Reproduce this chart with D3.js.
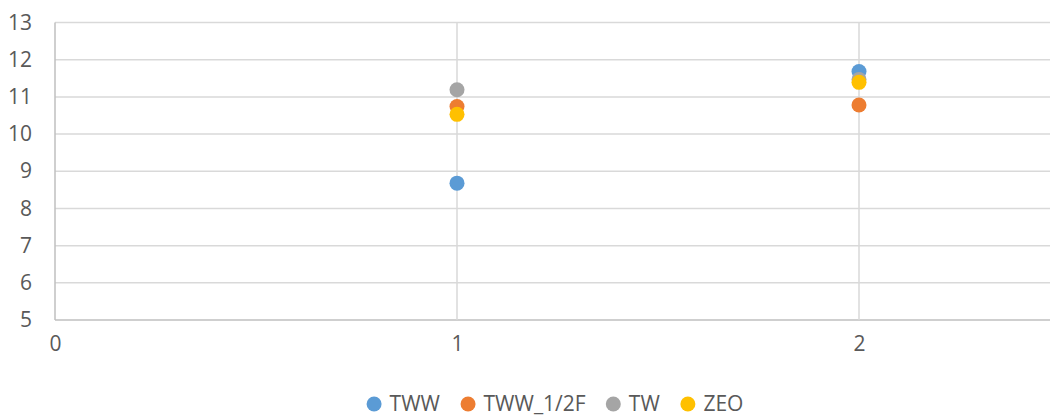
<!DOCTYPE html>
<html>
<head>
<meta charset="utf-8">
<script src="https://cdn.jsdelivr.net/npm/d3@7"></script>
<style>
  html, body { margin: 0; padding: 0; background: #fff; overflow: hidden; }
  svg { display: block; font-family: "Open Sans", "Liberation Sans", sans-serif; }
</style>
</head>
<body>
<svg id="chart" width="1050" height="417"></svg>
<script>
// Series: x positions and y values for each group
const seriesNames = ["TWW", "TWW_1/2F", "TW", "ZEO"];
const seriesColors = ["#5b9bd5", "#ed7d31", "#a5a5a5", "#ffc000"];
const xValues = [1, 2];
const twwValues = [8.68, 11.68];
const tww12fValues = [10.74, 10.78];
const twValues = [11.19, 11.47];
const zeoValues = [10.53, 11.39];
const yTicks = [5, 6, 7, 8, 9, 10, 11, 12, 13];
const xTicks = [0, 1, 2];

const seriesValues = [twwValues, tww12fValues, twValues, zeoValues];

const svg = d3.select("#chart");
const W = 1050;
const fontSize = "21px";
const textColor = "#595959";

const x = d3.scaleLinear().domain([0, 2.5]).range([55, 1060]);
const y = d3.scaleLinear().domain([5, 13]).range([320, 22.5]);

// Horizontal gridlines
svg.append("g")
  .selectAll("line")
  .data(yTicks)
  .join("line")
  .attr("x1", x(0)).attr("x2", W)
  .attr("y1", d => y(d)).attr("y2", d => y(d))
  .attr("stroke", d => d === 5 ? "#bfbfbf" : "#d9d9d9")
  .attr("stroke-width", 1.5);

// Vertical gridlines
svg.append("g")
  .selectAll("line")
  .data(xTicks)
  .join("line")
  .attr("x1", d => x(d)).attr("x2", d => x(d))
  .attr("y1", y(13)).attr("y2", y(5))
  .attr("stroke", d => d === 0 ? "#bfbfbf" : "#d9d9d9")
  .attr("stroke-width", 1.5);

// Y axis labels
const yAxis = d3.axisLeft(y).tickValues(yTicks).tickFormat(d3.format("d")).tickSize(0).tickPadding(23);
const gy = svg.append("g").attr("transform", `translate(${x(0)},0)`).call(yAxis);
gy.select(".domain").remove();
gy.selectAll("text")
  .attr("fill", textColor)
  .style("font-size", fontSize)
  .style("font-family", "'Open Sans', 'Liberation Sans', sans-serif");

// X axis labels
const xAxis = d3.axisBottom(x).tickValues(xTicks).tickFormat(d3.format("d")).tickSize(0).tickPadding(16);
const gx = svg.append("g").attr("transform", `translate(0,${y(5)})`).call(xAxis);
gx.select(".domain").remove();
gx.selectAll("text")
  .attr("fill", textColor)
  .style("font-size", fontSize)
  .style("font-family", "'Open Sans', 'Liberation Sans', sans-serif");

// Markers, drawn series by series so later series sit on top
seriesValues.forEach((vals, i) => {
  svg.append("g")
    .selectAll("circle")
    .data(vals.map((v, j) => [xValues[j], v]))
    .join("circle")
    .attr("cx", d => x(d[0]))
    .attr("cy", d => y(d[1]))
    .attr("r", 7.5)
    .attr("fill", seriesColors[i]);
});

// Legend under the plot
const legend = svg.append("g");
const items = legend.selectAll("g")
  .data(seriesNames)
  .join("g");
items.append("circle")
  .attr("r", 7.5)
  .attr("cx", 7.5)
  .attr("cy", 0)
  .attr("fill", (d, i) => seriesColors[i]);
items.append("text")
  .attr("x", 23)
  .attr("y", 0)
  .attr("dy", "0.35em")
  .attr("fill", textColor)
  .style("font-size", fontSize)
  .text(d => d);

const widths = [];
items.each(function () {
  widths.push(this.getBBox().width);
});
const gap = 20;
const total = d3.sum(widths) + gap * (widths.length - 1);
let cx = 555 - total / 2;
items.attr("transform", (d, i) => {
  const t = `translate(${cx},404)`;
  cx += widths[i] + gap;
  return t;
});
</script>
</body>
</html>
